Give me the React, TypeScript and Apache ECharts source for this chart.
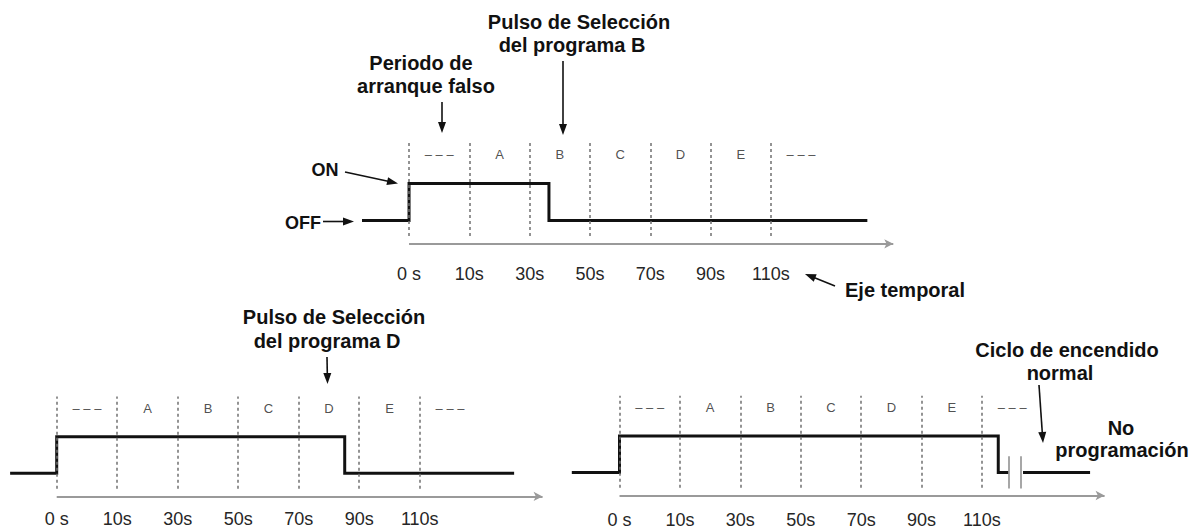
import React, { useEffect, useRef } from "react";
import * as echarts from "echarts";

// ---- data ----
const tickLabels = ["0 s", "10s", "30s", "50s", "70s", "90s", "110s"];
const dividerPositions = [0, 1, 2, 3, 4, 5, 6];
const segmentLabels = ["– – –", "A", "B", "C", "D", "E", "– – –"];
const segmentCenters = [0.5, 1.5, 2.5, 3.5, 4.5, 5.5, 6.5];
const OFF = 0;
const ON = 1;
const signalStart = [-0.78, -0.77, -0.79];
const pulseEnd = [2.32, 4.76, 6.27];
const signalEnd = [7.6, 7.56, 7.79];
const timeAxisEnd = 8.03;
const breakGap = [6.44, 6.68];
const breakMarks = [6.44, 6.65];
const dividerSpan = [-0.42, 2.1];
const breakSpan = [-0.44, 0.44];
const segmentLabelLevel = 1.78;

const X_MIN = -0.8;
const X_MAX = 8.1;
const Y_MIN = -0.63;
const Y_MAX = 2.2;

// ---- layout ----
const panels = [
  { left: 360.8, top: 139.1, width: 536.7, height: 104.7, labelMargin: 21 },
  { left: 8.3, top: 392.8, width: 538.5, height: 103.6, labelMargin: 14 },
  { left: 571.2, top: 392, width: 537.6, height: 103.9, labelMargin: 15.5 },
];

const FONT = '"Liberation Sans", Arial, Helvetica, sans-serif';

const annotations = [
  { text: "Pulso de Selección", x: 579, y: 22, align: "center", size: 20 },
  { text: "del programa B", x: 572, y: 45, align: "center", size: 20 },
  { text: "Periodo de", x: 421, y: 63, align: "center", size: 20 },
  { text: "arranque falso", x: 426, y: 86, align: "center", size: 20 },
  { text: "ON", x: 325, y: 170, align: "center", size: 18 },
  { text: "OFF", x: 321, y: 222.5, align: "right", size: 18 },
  { text: "Eje temporal", x: 845, y: 290, align: "left", size: 20 },
  { text: "Pulso de Selección", x: 334, y: 317, align: "center", size: 20 },
  { text: "del programa D", x: 327, y: 341, align: "center", size: 20 },
  { text: "Ciclo de encendido", x: 1067, y: 350, align: "center", size: 20 },
  { text: "normal", x: 1060, y: 373, align: "center", size: 20 },
  { text: "No", x: 1121, y: 428, align: "center", size: 20 },
  { text: "programación", x: 1122, y: 450, align: "center", size: 20 },
];

const arrows = [
  { from: [563, 61], to: [563, 135] },
  { from: [442, 102], to: [442, 133] },
  { from: [345, 172], to: [398, 183.5] },
  { from: [323, 221.5], to: [354, 221.5] },
  { from: [835, 286], to: [805, 274] },
  { from: [327, 357], to: [327.5, 384] },
  { from: [1039, 385], to: [1043, 443] },
];

function arrowElements(from: number[], to: number[]) {
  const dx = to[0] - from[0];
  const dy = to[1] - from[1];
  const len = Math.sqrt(dx * dx + dy * dy);
  const ux = dx / len;
  const uy = dy / len;
  const L = 11;
  const W = 4;
  const bx = to[0] - ux * L;
  const by = to[1] - uy * L;
  const nx = -uy;
  const ny = ux;
  return [
    {
      type: "line",
      shape: { x1: from[0], y1: from[1], x2: bx + ux * 2, y2: by + uy * 2 },
      style: { stroke: "#111", lineWidth: 1.6 },
      silent: true,
    },
    {
      type: "polygon",
      shape: {
        points: [
          [to[0], to[1]],
          [bx + nx * W, by + ny * W],
          [bx - nx * W, by - ny * W],
        ],
      },
      style: { fill: "#111" },
      silent: true,
    },
  ];
}

function buildOption() {
  const grid: any[] = [];
  const xAxis: any[] = [];
  const yAxis: any[] = [];
  const series: any[] = [];

  panels.forEach((p, i) => {
    grid.push({ left: p.left, top: p.top, width: p.width, height: p.height, containLabel: false });
    xAxis.push({
      type: "value",
      gridIndex: i,
      min: X_MIN,
      max: X_MAX,
      axisLine: { show: false },
      axisTick: { show: false },
      splitLine: { show: false },
      axisLabel: {
        show: true,
        customValues: dividerPositions,
        margin: p.labelMargin,
        fontSize: 18,
        fontFamily: FONT,
        color: "#262626",
        formatter: (v: number) => {
          const idx = dividerPositions.indexOf(Math.round(v));
          return idx >= 0 ? tickLabels[idx] : "";
        },
      },
    });
    yAxis.push({
      type: "value",
      gridIndex: i,
      min: Y_MIN,
      max: Y_MAX,
      show: false,
    });

    // dividers
    series.push({
      type: "line",
      xAxisIndex: i,
      yAxisIndex: i,
      data: [],
      silent: true,
      markLine: {
        silent: true,
        animation: false,
        symbol: ["none", "none"],
        label: { show: false },
        lineStyle: { color: "#707070", width: 1.5, type: [3, 3] },
        data: dividerPositions.map((x) => [
          { coord: [x, dividerSpan[0]] },
          { coord: [x, dividerSpan[1]] },
        ]),
      },
    });

    // time axis with arrow
    series.push({
      type: "line",
      xAxisIndex: i,
      yAxisIndex: i,
      data: [],
      silent: true,
      markLine: {
        silent: true,
        animation: false,
        symbol: ["none", "arrow"],
        symbolSize: [7, 9],
        label: { show: false },
        lineStyle: { color: "#9a9a9a", width: 2, type: "solid" },
        data: [[{ coord: [0, Y_MIN] }, { coord: [timeAxisEnd, Y_MIN] }]],
      },
    });

    // segment labels
    series.push({
      type: "scatter",
      xAxisIndex: i,
      yAxisIndex: i,
      symbolSize: 1,
      silent: true,
      itemStyle: { color: "rgba(0,0,0,0)" },
      label: {
        show: true,
        position: "inside",
        formatter: "{b}",
        fontSize: 13,
        fontFamily: FONT,
        color: "#222",
      },
      data: segmentCenters.map((x, k) => ({ name: segmentLabels[k], value: [x, segmentLabelLevel] })),
    });

    // signal
    const lineStyle = { color: "#111", width: 3, join: "miter", cap: "butt" };
    if (i < 2) {
      series.push({
        type: "line",
        xAxisIndex: i,
        yAxisIndex: i,
        showSymbol: false,
        symbol: "none",
        silent: true,
        lineStyle,
        data: [
          [signalStart[i], OFF],
          [0, OFF],
          [0, ON],
          [pulseEnd[i], ON],
          [pulseEnd[i], OFF],
          [signalEnd[i], OFF],
        ],
      });
    } else {
      series.push({
        type: "line",
        xAxisIndex: i,
        yAxisIndex: i,
        showSymbol: false,
        symbol: "none",
        silent: true,
        lineStyle,
        data: [
          [signalStart[i], OFF],
          [0, OFF],
          [0, ON],
          [pulseEnd[i], ON],
          [pulseEnd[i], OFF],
          [breakGap[0], OFF],
        ],
      });
      series.push({
        type: "line",
        xAxisIndex: i,
        yAxisIndex: i,
        showSymbol: false,
        symbol: "none",
        silent: true,
        lineStyle,
        data: [
          [breakGap[1], OFF],
          [signalEnd[i], OFF],
        ],
      });
      series.push({
        type: "line",
        xAxisIndex: i,
        yAxisIndex: i,
        data: [],
        silent: true,
        markLine: {
          silent: true,
          animation: false,
          symbol: ["none", "none"],
          label: { show: false },
          lineStyle: { color: "#8a8a8a", width: 1.5, type: "solid" },
          data: breakMarks.map((x) => [
            { coord: [x, breakSpan[0]] },
            { coord: [x, breakSpan[1]] },
          ]),
        },
      });
    }
  });

  const graphic: any[] = [];
  annotations.forEach((a) => {
    graphic.push({
      type: "text",
      x: a.x,
      y: a.y,
      silent: true,
      style: {
        text: a.text,
        fill: "#111",
        fontSize: a.size,
        fontWeight: "bold",
        fontFamily: FONT,
        align: a.align,
        verticalAlign: "middle",
        textAlign: a.align,
        textVerticalAlign: "middle",
      },
    });
  });
  arrows.forEach((ar) => {
    arrowElements(ar.from, ar.to).forEach((e) => graphic.push(e));
  });

  return {
    animation: false,
    backgroundColor: "#ffffff",
    grid,
    xAxis,
    yAxis,
    series,
    graphic,
  };
}

export default function App() {
  const ref = useRef<HTMLDivElement>(null);
  useEffect(() => {
    if (!ref.current) return;
    const chart = echarts.init(ref.current, undefined, { renderer: "svg" });
    chart.setOption(buildOption() as any);
    return () => chart.dispose();
  }, []);
  return (
    <div
      ref={ref}
      style={{ position: "absolute", left: 0, top: 0, width: 1193, height: 529 }}
    />
  );
}
